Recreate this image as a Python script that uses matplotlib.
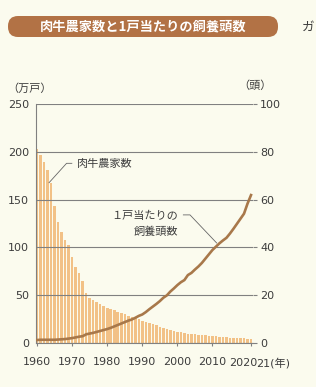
import numpy as np
import matplotlib
matplotlib.use("Agg")
from matplotlib import pyplot as plt
from matplotlib import patches
from matplotlib.transforms import IdentityTransform

plt.rcParams['font.family'] = ['Noto Sans CJK JP', 'DejaVu Sans']

years = np.arange(1960, 2022)

# 肉牛農家数 (万戸)
farms = [203.1, 196.5, 189.0, 181.3, 167.0, 143.5, 126.3, 116.6, 107.2, 102.3,
         90.2, 79.8, 72.9, 65.0, 52.2, 47.4, 45.1, 42.3, 40.2, 38.3,
         36.4, 35.2, 34.0, 32.6, 31.1, 29.8, 28.0, 27.0, 26.0, 24.6,
         23.2, 22.1, 21.0, 19.9, 18.4, 17.0, 15.4, 14.2, 13.3, 12.5,
         11.7, 11.0, 10.4, 9.8, 9.4, 9.0, 8.6, 8.2, 8.0, 7.7,
         7.4, 6.9, 6.5, 6.1, 5.8, 5.4, 5.2, 5.0, 4.8, 4.6,
         4.4, 4.2]

# 1戸当たりの飼養頭数 (頭)
heads = [1.2, 1.3, 1.3, 1.3, 1.3, 1.3, 1.4, 1.5, 1.6, 1.8,
         2.0, 2.3, 2.6, 2.8, 3.6, 3.9, 4.2, 4.6, 5.0, 5.4,
         5.8, 6.3, 6.9, 7.5, 8.1, 8.7, 9.3, 9.8, 10.5, 11.3,
         11.9, 12.9, 14.1, 15.2, 16.3, 17.5, 18.9, 19.9, 21.5, 22.8,
         24.2, 25.4, 26.3, 28.4, 29.3, 30.7, 32.0, 33.5, 35.3, 37.1,
         38.9, 40.3, 41.7, 42.9, 44.0, 45.8, 47.8, 49.9, 52.0, 54.1,
         58.3, 61.9]

left_ticks = [0, 50, 100, 150, 200, 250]
right_ticks = [0, 20, 40, 60, 80, 100]
x_ticks = [1960, 1970, 1980, 1990, 2000, 2010, 2021]
x_labels = ['1960', '1970', '1980', '1990', '2000', '2010', '']

bg = '#fbfbee'
txt = '#3c3c3c'
num_font = ['DejaVu Sans', 'Noto Sans CJK JP']
num_size = 8

fig = plt.figure(figsize=(3.16, 3.87), dpi=100, facecolor=bg)
ax = fig.add_axes([0.113, 0.114, 0.688, 0.617])
ax.set_facecolor(bg)

ax.bar(years, farms, width=0.72, color='#f2c186', zorder=1)
ax.set_xlim(1959.6, 2021.6)
ax.set_ylim(0, 250)
ax.set_yticks(left_ticks)
ax.set_xticks(x_ticks)
ax.set_xticklabels(x_labels)
ax.grid(axis='y', color='#808080', lw=0.8)
ax.set_axisbelow(False)
for s in ['top', 'right']:
    ax.spines[s].set_visible(False)
ax.spines['left'].set_color('#808080')
ax.spines['bottom'].set_color('#808080')
ax.tick_params(axis='y', length=0, pad=5, labelcolor=txt, labelsize=num_size)
ax.tick_params(axis='x', length=2.5, color='#808080', pad=8, labelcolor=txt, labelsize=num_size)
for lab in ax.get_xticklabels() + ax.get_yticklabels():
    lab.set_family(num_font)
ax.text(2018.7, -15.5, '2020', ha='center', va='top', color=txt, fontsize=num_size,
        family=num_font)
ax.text(2022.4, -15.5, '21(年)', ha='left', va='top', color=txt, fontsize=num_size,
        family=num_font)

ax2 = ax.twinx()
ax2.plot(years, heads, color='#a8784a', lw=1.9, zorder=3)
ax2.set_ylim(0, 100)
ax2.set_yticks(right_ticks)
for s in ['top', 'left', 'bottom', 'right']:
    ax2.spines[s].set_visible(False)
ax2.tick_params(axis='y', length=3, color='#808080', pad=2, labelcolor=txt, labelsize=num_size)
for lab in ax2.get_yticklabels():
    lab.set_family(num_font)

# axis units
fig.text(30 / 316, 1 - 89 / 387, '（万戸）', ha='center', va='center', color=txt, fontsize=8)
fig.text(255 / 316, 1 - 86 / 387, '（頭）', ha='center', va='center', color=txt, fontsize=8)

# annotations
ax.plot([1963.4, 1968.4, 1969.9], [167.7, 188, 188], color='#666666', lw=0.6)
ax.text(1971.4, 187, '肉牛農家数', ha='left', va='center', color=txt, fontsize=8)
ax.text(2000.2, 133, '１戸当たりの', ha='right', va='center', color=txt, fontsize=8)
ax.text(2000.2, 116, '飼養頭数', ha='right', va='center', color=txt, fontsize=8)
ax.plot([2001.7, 2003.6, 2011.2], [134, 134, 104.6], color='#666666', lw=0.6)

# title banner
banner = patches.FancyBboxPatch((8, 350), 270, 21, boxstyle='round,pad=0,rounding_size=10',
                                transform=IdentityTransform(), facecolor='#b27245',
                                edgecolor='none')
fig.add_artist(banner)
fig.text(143 / 316, 1 - 26.5 / 387, '肉牛農家数と1戸当たりの飼養頭数', ha='center', va='center',
         color='white', fontsize=9.5, fontweight='bold')
fig.text(302 / 316, 1 - 27 / 387, 'ガ', ha='left', va='center', color=txt, fontsize=9)

fig.savefig('out.png', dpi=100, facecolor=bg)
